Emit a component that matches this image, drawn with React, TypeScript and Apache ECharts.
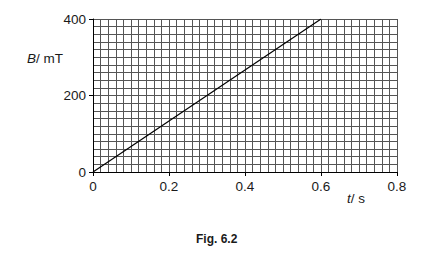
import React, { useEffect, useRef } from "react";
import * as echarts from "echarts";

const xTicks = [0, 0.2, 0.4, 0.6, 0.8];
const yTicks = [0, 200, 400];
const lineT = [0, 0.6];
const lineB = [0, 400];
const xLabel = "t";
const xUnit = "/ s";
const yLabel = "B";
const yUnit = "/ mT";
const caption = "Fig. 6.2";

const FONT = "Liberation Sans, Arial, sans-serif";

export default function App() {
  const ref = useRef<HTMLDivElement>(null);
  useEffect(() => {
    if (!ref.current) return;
    const chart = echarts.init(ref.current, undefined, { renderer: "svg" });
    const fmtX = (v: number) => {
      const f = xTicks.find((t) => Math.abs(t - v) < 1e-9);
      return f === undefined ? "" : f === 0 ? "0" : String(f);
    };
    const gridLine = { color: "#555", width: 1 };
    chart.setOption({
      animation: false,
      backgroundColor: "#fff",
      grid: { left: 93, right: 50, top: 19, bottom: 92, show: false },
      xAxis: {
        type: "value",
        min: xTicks[0],
        max: xTicks[xTicks.length - 1],
        interval: 0.2,
        axisLine: { show: true, onZero: false, lineStyle: { color: "#000", width: 1 } },
        axisTick: { show: true, length: 4, inside: false, lineStyle: { color: "#000" } },
        axisLabel: { formatter: fmtX, color: "#1a1a1a", fontFamily: FONT, fontSize: 13.5, margin: 7 },
        splitLine: { show: true, lineStyle: gridLine },
        minorTick: { show: false, splitNumber: 10 },
        minorSplitLine: { show: true, lineStyle: gridLine },
      },
      yAxis: {
        type: "value",
        min: yTicks[0],
        max: yTicks[yTicks.length - 1],
        interval: 200,
        axisLine: { show: true, onZero: false, lineStyle: { color: "#000", width: 1 } },
        axisTick: { show: true, length: 4, inside: false, lineStyle: { color: "#000" } },
        axisLabel: { color: "#1a1a1a", fontFamily: FONT, fontSize: 13.5, margin: 7 },
        splitLine: { show: true, lineStyle: gridLine },
        minorTick: { show: false, splitNumber: 10 },
        minorSplitLine: { show: true, lineStyle: gridLine },
      },
      series: [
        {
          type: "line",
          data: lineT.map((t, i) => [t, lineB[i]]),
          showSymbol: false,
          lineStyle: { color: "#000", width: 1.2 },
          z: 5,
        },
      ],
      graphic: [
        {
          type: "text",
          left: 27,
          top: 51,
          style: {
            text: `{i|${yLabel}}{n|${yUnit}}`,
            rich: {
              i: { fontStyle: "italic", fontFamily: FONT, fontSize: 13.5, fill: "#1a1a1a" },
              n: { fontFamily: FONT, fontSize: 13.5, fill: "#1a1a1a" },
            },
          },
        },
        {
          type: "text",
          left: 347,
          top: 191,
          style: {
            text: `{i|${xLabel}}{n|${xUnit}}`,
            rich: {
              i: { fontStyle: "italic", fontFamily: FONT, fontSize: 13.5, fill: "#1a1a1a" },
              n: { fontFamily: FONT, fontSize: 13.5, fill: "#1a1a1a" },
            },
          },
        },
        {
          type: "text",
          left: 196,
          top: 233,
          style: { text: caption, fontFamily: FONT, fontSize: 12, fontWeight: "bold", fill: "#1a1a1a" },
        },
      ],
    });
    return () => chart.dispose();
  }, []);
  return <div ref={ref} style={{ width: 447, height: 264, margin: -8 }} />;
}
